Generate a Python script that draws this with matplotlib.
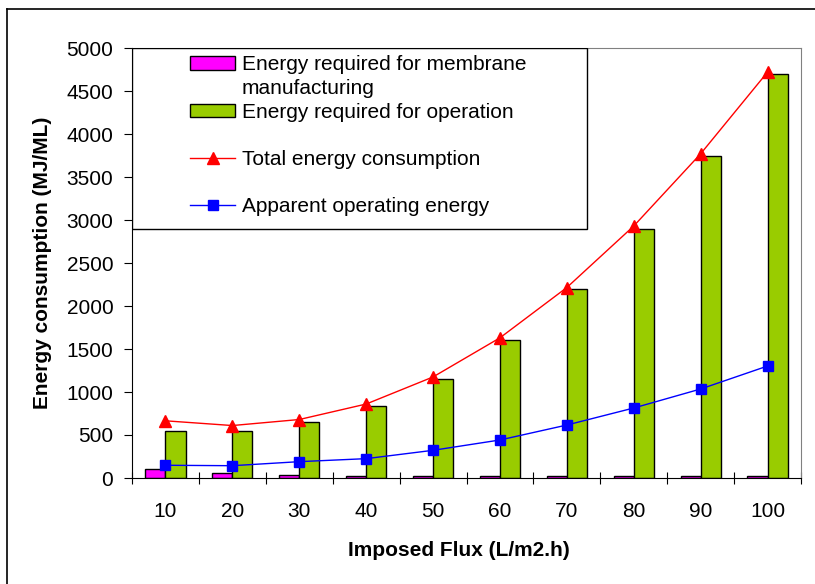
import matplotlib
matplotlib.use('Agg')
import matplotlib.pyplot as plt
from matplotlib.patches import Rectangle
from matplotlib.lines import Line2D
import numpy as np

plt.rcParams['font.family'] = ['Liberation Sans', 'DejaVu Sans']

# data
flux = ['10', '20', '30', '40', '50', '60', '70', '80', '90', '100']
membrane = [100, 62, 38, 20, 18, 18, 18, 18, 18, 18]
operation = [550, 550, 650, 840, 1150, 1600, 2200, 2900, 3750, 4700]
total = [665, 610, 680, 860, 1175, 1630, 2215, 2930, 3770, 4720]
apparent = [148, 143, 190, 225, 322, 442, 616, 814, 1035, 1302]

fs = 15

fig = plt.figure(figsize=(8.15, 5.84), dpi=100)
ax = fig.add_axes([132/815, 1 - 478/584, 669/815, 430/584])

x = np.arange(len(flux))
w = 0.3
b1 = ax.bar(x - w/2, membrane, w, color='#FF00FF', edgecolor='black', lw=1.0,
            label='Energy required for membrane', zorder=2)
b2 = ax.bar(x + w/2, operation, w, color='#99CC00', edgecolor='black', lw=1.0,
            label='Energy required for operation', zorder=2)
l1, = ax.plot(x, total, color='#FF0000', lw=1.0, marker='^', ms=8,
              label='Total energy consumption', zorder=3)
l2, = ax.plot(x, apparent, color='#0000FF', lw=1.0, marker='s', ms=7,
              label='Apparent operating energy', zorder=3)

ax.set_xlim(-0.5, 9.5)
ax.set_ylim(0, 5000)
ax.set_yticks(range(0, 5001, 500))
ax.tick_params(axis='y', direction='out', length=5.5, width=0.8, pad=8, labelsize=fs)

# boundaries between categories as major ticks, labels on minor ticks
ax.set_xticks(np.arange(-0.5, 10, 1.0))
ax.set_xticklabels([])
ax.set_xticks(x, minor=True)
ax.set_xticklabels(flux, minor=True)
ax.tick_params(axis='x', which='major', direction='inout', length=9, width=0.8)
ax.tick_params(axis='x', which='minor', length=0, pad=17, labelsize=fs)

for s in ['top', 'right']:
    ax.spines[s].set_color('#808080')
for s in ['left', 'bottom']:
    ax.spines[s].set_color('black')

ax.set_ylabel('Energy consumption (MJ/ML)', fontsize=fs, fontweight='bold')
ax.yaxis.set_label_coords(-0.12, 0.5)
ax.set_xlabel('Imposed Flux (L/m2.h)', fontsize=fs, fontweight='bold')
ax.xaxis.set_label_coords(0.488, -0.146)

# legend box
ax.add_patch(Rectangle((0, 1 - 181/430), 455/669, 181/430, transform=ax.transAxes,
                       facecolor='white', edgecolor='black', lw=1.0, zorder=5))
leg = ax.legend(handles=[b1, b2, l1, l2], loc='upper left',
                bbox_to_anchor=(48/669, 1 + 3/430), frameon=False,
                borderpad=0, fontsize=fs, handlelength=2.15, handleheight=0.6,
                handletextpad=0.35, labelspacing=1.35)
leg.set_zorder(6)
ax.text((242 - 132)/669, (478 - 88)/430, 'manufacturing', transform=ax.transAxes,
        fontsize=fs, va='center', ha='left', zorder=7)

# outer border
fig.add_artist(Line2D([7/815, 7/815], [0, 1 - 9/584], color='black', lw=1.2))
fig.add_artist(Line2D([7/815, 1], [1 - 9/584, 1 - 9/584], color='black', lw=1.2))

fig.savefig('out.png', dpi=100)
